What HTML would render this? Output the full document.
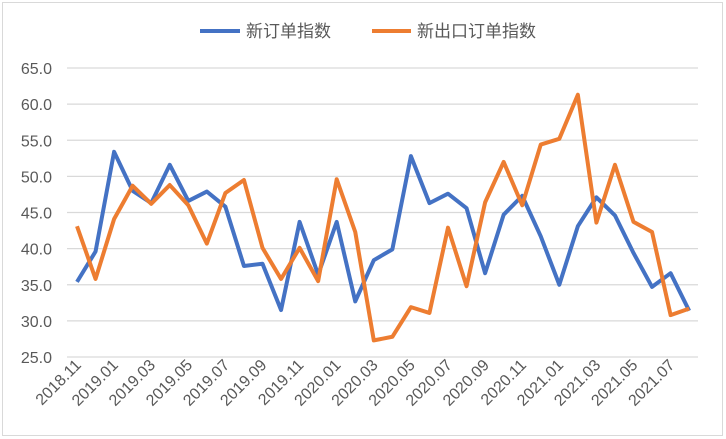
<!DOCTYPE html><html><head><meta charset="utf-8"><style>body{margin:0;background:#fff}svg{display:block}</style></head><body>
<svg width="726" height="439" xmlns="http://www.w3.org/2000/svg" font-family="Liberation Sans, Noto Sans CJK SC, sans-serif">
<rect x="2.5" y="2.5" width="720" height="433" fill="#fff" stroke="#d9d9d9"/>
<g id="g"></g>
<script>
const ns="http://www.w3.org/2000/svg",g=document.getElementById('g');
function el(t,a,txt){const e=document.createElementNS(ns,t);for(const k in a)e.setAttribute(k,a[k]);if(txt)e.textContent=txt;g.appendChild(e);return e;}
const Y=v=>68+(65-v)*7.225, X=i=>77+i*18.55;
for(let v=25;v<=65;v+=5){el('line',{x1:67,x2:698,y1:Y(v),y2:Y(v),stroke:'#d9d9d9','stroke-width':1.2});
el('text',{x:52,y:Y(v)+6,'text-anchor':'end','font-size':16,fill:'#595959'},v.toFixed(1));}
const b=[35.4,39.6,53.4,48,46.3,51.6,46.6,47.9,45.8,37.6,37.9,31.5,43.7,36.4,43.7,32.7,38.4,39.9,52.8,46.3,47.6,45.6,36.6,44.7,47.3,41.7,35.0,43.1,47.1,44.6,39.4,34.7,36.6,31.4];
const o=[43.1,35.8,44.1,48.7,46.2,48.8,46.0,40.7,47.7,49.5,40.1,35.8,40.1,35.5,49.6,42.3,27.3,27.8,31.9,31.1,42.9,34.8,46.4,52.0,46.0,54.4,55.2,61.3,43.6,51.6,43.7,42.3,30.8,31.7];
const lab=['2018.11','2019.01','2019.03','2019.05','2019.07','2019.09','2019.11','2020.01','2020.03','2020.05','2020.07','2020.09','2020.11','2021.01','2021.03','2021.05','2021.07'];
lab.forEach((l,k)=>{const x=X(2*k)+5,y=366;el('text',{x:x,y:y,'text-anchor':'end','font-size':16,fill:'#595959',transform:`rotate(-45 ${x} ${y})`},l);});
[[b,'#4472c4'],[o,'#ed7d31']].forEach(([d,c])=>el('polyline',{points:d.map((v,i)=>X(i)+','+Y(v)).join(' '),fill:'none',stroke:c,'stroke-width':4,'stroke-linejoin':'round'}));
el('line',{x1:200,x2:240,y1:31,y2:31,stroke:'#4472c4','stroke-width':4});
el('text',{x:246,y:37,'font-size':17,fill:'#595959'},'新订单指数');
el('line',{x1:372,x2:411,y1:31,y2:31,stroke:'#ed7d31','stroke-width':4});
el('text',{x:417,y:37,'font-size':17,fill:'#595959'},'新出口订单指数');
</script>
</svg></body></html>
